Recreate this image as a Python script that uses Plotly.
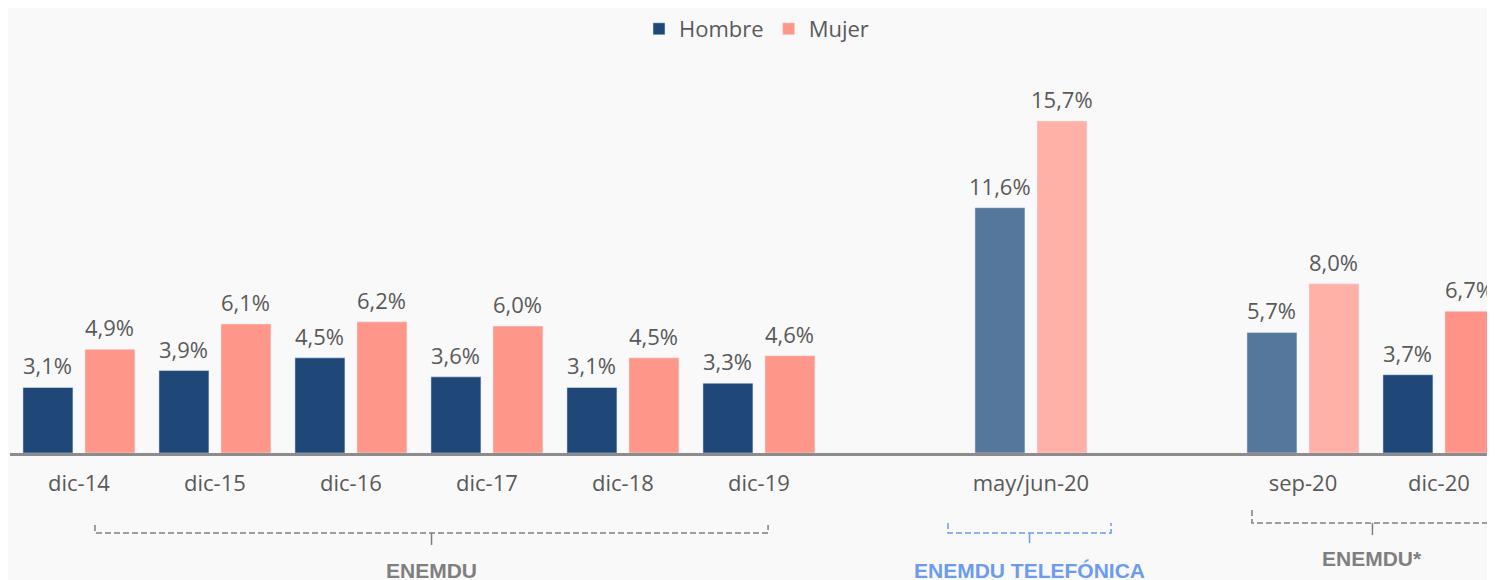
import plotly.graph_objects as go

# data
categories = ["dic-14", "dic-15", "dic-16", "dic-17", "dic-18", "dic-19", " ",
              "may/jun-20", "  ", "sep-20", "dic-20"]
hombre = [3.1, 3.9, 4.5, 3.6, 3.1, 3.3, None, 11.6, None, 5.7, 3.7]
mujer = [4.9, 6.1, 6.2, 6.0, 4.5, 4.6, None, 15.7, None, 8.0, 6.7]

# survey groups shown under the axis: (label, first category, last category)
groups = [("ENEMDU", "dic-14", "dic-19"),
          ("ENEMDU TELEFÓNICA", "may/jun-20", "may/jun-20"),
          ("ENEMDU*", "sep-20", "dic-20")]

FONT = "Open Sans, sans-serif"
BOLD_FONT = "Liberation Sans, Arial, sans-serif"
GRAY = "#595959"

# lighter shade for may/jun-20 and sep-20
light = [c in ("may/jun-20", "sep-20") for c in categories]
col_h = ["#56779c" if l else "#1f4778" for l in light]
col_m = ["#ffb1a8" if l else "#ff968a" for l in light]
col_m[-1] = "#ff9387"


def fmt(v):
    return f"{v:.1f}".replace(".", ",") + "%"


fig = go.Figure()
fig.add_trace(go.Bar(name="Hombre", x=categories, y=hombre, marker_color=col_h))
fig.add_trace(go.Bar(name="Mujer", x=categories, y=mujer, marker_color=col_m))

# page body has an 8px margin; the plot area is placed in page pixels
OFF = 8
TOP, AXIS = 60, 453
H = AXIS - TOP


def py(p):
    # page pixel row -> paper coordinate
    return (AXIS - p) / H


annotations = []
# value labels above each bar
for vals, dx in ((hombre, -31), (mujer, 31)):
    for c, v in zip(categories, vals):
        if v is None:
            continue
        annotations.append(dict(text=fmt(v), x=c, y=v, xref="x", yref="y",
                                xshift=dx, yshift=5, yanchor="bottom", showarrow=False,
                                font=dict(size=22, color=GRAY, family=FONT)))

# bracket geometry (page pixels): end tick top, line row, centre tick bottom, label row
bracket_px = [(525, 533, 545, 570), (523, 533, 543, 570), (510, 523, 535, 558)]
bracket_pad = [(0.118, 0.067), (-0.61, 0.589), (-0.375, 0.397)]
colors = ["#7f7f7f", "#6d9bee", "#7f7f7f"]

shapes = []
for (label, c0, c1), (ytop, yl, ybot, ytxt), (p0, p1), lc in zip(
        groups, bracket_px, bracket_pad, colors):
    x0 = categories.index(c0) + p0
    x1 = categories.index(c1) + p1
    xm = (x0 + x1) / 2
    line = dict(color=lc, width=1.5, dash="6px,3px")
    shapes.append(dict(type="path", xref="x", yref="paper", line=line,
                       path=f"M {x0},{py(ytop)} L {x0},{py(yl)} L {x1},{py(yl)} L {x1},{py(ytop)}"))
    shapes.append(dict(type="line", xref="x", yref="paper", line=dict(color=lc, width=1.5),
                       x0=xm, x1=xm, y0=py(yl), y1=py(ybot)))
    annotations.append(dict(text=f"<b>{label}</b>", x=xm, y=py(ytxt), xref="x", yref="paper",
                            showarrow=False, yanchor="middle",
                            font=dict(size=21, color=lc, family=BOLD_FONT)))

fig.update_layout(
    width=1495, height=580,
    margin=dict(l=10 - OFF, r=0, t=TOP - OFF, b=580 - AXIS + OFF, autoexpand=False),
    paper_bgcolor="#f9f9fa", plot_bgcolor="rgba(0,0,0,0)",
    barmode="group", bargap=0.088, bargroupgap=0.194,
    font=dict(family=FONT, color=GRAY),
    showlegend=True,
    legend=dict(orientation="h", x=0.5, xanchor="center", yref="container",
                y=1, yanchor="top",
                font=dict(size=22, color=GRAY, family=FONT),
                bgcolor="rgba(0,0,0,0)"),
    shapes=shapes, annotations=annotations,
)
fig.update_xaxes(type="category", range=[-0.507, -0.507 + 1493 / 136], showline=True,
                 linecolor="#8c8c8c", linewidth=2.5, showgrid=False,
                 ticks="outside", ticklen=9, tickcolor="rgba(0,0,0,0)",
                 tickfont=dict(size=22, color=GRAY, family=FONT))
fig.update_yaxes(range=[0, H / 21.15], visible=False, showgrid=False, zeroline=False)

fig.write_html("out.html")
